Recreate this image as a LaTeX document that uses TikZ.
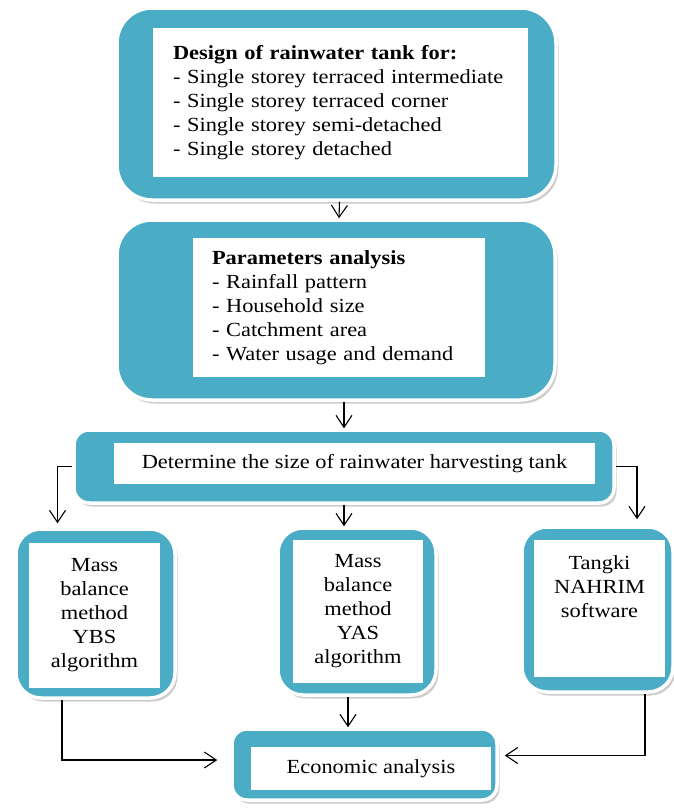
\documentclass[tikz,border=0pt]{standalone}
\usepackage{fontspec}
\setmainfont[FakeStretch=1.12]{Liberation Serif}
\usetikzlibrary{arrows.meta,shadows}
\definecolor{aqua}{HTML}{4BACC6}
\tikzset{
  outerbox/.style={fill=aqua, draw=white, line width=3.5pt,
    drop shadow={shadow xshift=2.5pt, shadow yshift=-3.5pt, fill=black!40}},
  whitebox/.style={fill=white, inner ysep=0pt, font=\fontsize{20}{24}\selectfont},
  flow/.style={->, line width=1.1pt}
}
\begin{document}
\begin{tikzpicture}[x=1pt, y=-1pt, >={Straight Barb[length=12pt,width=16pt]}]
\useasboundingbox (0,0) rectangle (674,809);
% Draw the outer boxes
\node[outerbox, rounded corners=35pt, minimum width=439pt, minimum height=192pt] (design) at (336.5,104) {};
\node[outerbox, rounded corners=35pt, minimum width=438pt, minimum height=180pt] (params) at (336,310) {};
\node[outerbox, rounded corners=15pt, minimum width=540pt, minimum height=73pt] (sizing) at (344,466.5) {};
\node[outerbox, rounded corners=25pt, minimum width=159pt, minimum height=169pt] (ybs) at (95.5,613.5) {};
\node[outerbox, rounded corners=25pt, minimum width=158pt, minimum height=167pt] (yas) at (357,611.5) {};
\node[outerbox, rounded corners=25pt, minimum width=151pt, minimum height=165pt] (tangki) at (597.5,609.5) {};
\node[outerbox, rounded corners=15pt, minimum width=265pt, minimum height=71pt] (econ) at (364.5,764.5) {};
% Draw the white boxes with the text
\node[whitebox, text width=335pt, inner xsep=20pt, minimum height=149pt, align=left] (designtxt) at (340.5,102.5)
  {\textbf{Design of rainwater tank for:}\\- Single storey terraced intermediate\\- Single storey terraced corner\\- Single storey semi-detached\\- Single storey detached};
\node[whitebox, text width=254pt, inner xsep=19pt, minimum height=139pt, align=left] (paramstxt) at (339,307.5)
  {\textbf{Parameters analysis}\\- Rainfall pattern\\- Household size\\- Catchment area\\- Water usage and demand};
\node[whitebox, minimum width=481pt, minimum height=41pt] (sizingtxt) at (354.5,463.5)
  {Determine the size of rainwater harvesting tank};
\node[whitebox, minimum width=131pt, minimum height=145pt, align=center] (ybstxt) at (94.5,615.5)
  {Mass\\balance\\method\\YBS\\algorithm};
\node[whitebox, minimum width=130pt, minimum height=143pt, align=center] (yastxt) at (358,611)
  {Mass\\balance\\method\\YAS\\algorithm};
\node[whitebox, minimum width=131pt, minimum height=137pt,
  label={[whitebox, fill=none, align=center, anchor=north, yshift=-16pt]north:{Tangki\\NAHRIM\\software}}] (tangkitxt) at (599.5,608.5) {};
\node[whitebox, minimum width=240pt, minimum height=43pt] (econtxt) at (371,768.5) {Economic analysis};
% Draw the arrows
\draw[flow] ([xshift=3pt]design.south) -- ([xshift=3pt]params.north);
\draw[flow] (params.south -| sizing) -- (sizing.north);
\draw[flow] (sizing.south) -- (sizing.south |- yas.north);
\draw[flow, shorten >=4pt] (sizing.west) -| ([xshift=-38pt]ybs.north);
\draw[flow, shorten >=6pt] (sizing.east) -| ([xshift=39.5pt]tangki.north);
\draw[flow] ([xshift=-9pt]yas.south) -- ([xshift=-9pt]yas.south |- econ.north);
\draw[flow, shorten >=13pt] ([xshift=-33.5pt]ybs.south) |- ([yshift=4.5pt]econ.west);
\draw[flow, shorten >=6pt] ([xshift=47.5pt]tangki.south) |- ([yshift=9pt]econ.east);
\end{tikzpicture}
\end{document}
